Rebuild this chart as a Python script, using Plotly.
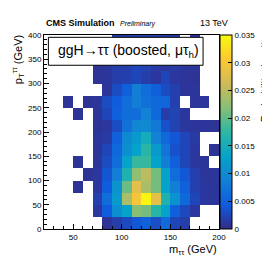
import plotly.graph_objects as go

N = None
# bin centres (GeV)
m_tautau = [25, 35, 45, 55, 65, 75, 85, 95, 105, 115, 125, 135, 145, 155, 165, 175, 185, 195]
pt_tautau = [12.5, 37.5, 62.5, 87.5, 112.5, 137.5, 162.5, 187.5, 212.5, 237.5,
             262.5, 287.5, 312.5, 337.5, 362.5, 387.5]

row_000_025 = [N, N, N, N, N, N, .0008, .0018, .0028, .004, .005, .0032, .0062, .0025, .0018, N, N, N]
row_025_050 = [N, N, N, N, N, .0012, .0045, .0105, .013, .022, .021, .017, .013, .005, .0028, .0012, N, N]
row_050_075 = [N, N, N, N, N, .002, .0065, .012, .024, .030, .0345, .028, .016, .011, .006, .0025, .0012, .001]
row_075_100 = [N, N, N, .0008, N, .0012, .0045, .011, .0205, .028, .024, .021, .013, .0085, .005, .002, .0012, .001]
row_100_125 = [N, N, N, N, .0008, .0012, .0038, .0085, .016, .0225, .025, .021, .013, .0065, .004, .002, .001, .001]
row_125_150 = [N, N, N, .0008, N, .001, .003, .0065, .013, .018, .018, .013, .0085, .005, .0025, .0012, .001, N]
row_150_175 = [N, N, N, N, N, .001, .0025, .006, .0105, .013, .017, .012, .0075, .0035, .0025, .0012, N, .0008]
row_175_200 = [N, N, N, N, N, .001, .0015, .005, .010, .012, .015, .009, .006, .004, .0025, .0015, N, N]
row_200_225 = [N, N, N, N, N, .0008, .0012, .003, .007, .0095, .010, .008, .0035, .0022, .0012, .001, .001, .0008]
row_225_250 = [N, N, N, .0008, N, .001, .0025, .005, .0065, .0065, .009, .006, .0018, .0022, .0012, N, N, N]
row_250_275 = [N, N, .0008, N, .0008, .001, .003, .0045, .0065, .0085, .007, .006, .0055, .002, N, .001, .001, N]
row_275_300 = [N, N, N, N, N, N, .001, .003, .005, .0085, .0065, .005, .003, .002, .001, .001, N, N]
row_300_325 = [N, N, N, N, N, .0008, .001, .0018, .002, .0025, .0018, .0012, .0025, .0012, .001, .0008, N, N]
row_325_350 = [N, N, N, N, N, .0008, .001, .0018, .0018, .0025, .0022, .0015, .0012, .0015, .0012, .001, N, N]
row_350_375 = [N, N, N, N, N, N, .001, .0015, .0015, .002, .002, .0015, .0012, .0012, .001, .001, N, N]
row_375_400 = [N, N, N, N, N, N, N, .0015, .0018, .002, .002, .002, .0018, .0015, N, .0012, N, N]

z = [row_000_025, row_025_050, row_050_075, row_075_100, row_100_125, row_125_150,
     row_150_175, row_175_200, row_200_225, row_225_250, row_250_275, row_275_300,
     row_300_325, row_325_350, row_350_375, row_375_400]

cbar_ticks = [0, 0.005, 0.01, 0.015, 0.02, 0.025, 0.03, 0.035]
cbar_labels = ["0", "0.005", "0.01", "0.015", "0.02", "0.025", "0.03", "0.035"]

# ROOT kBird palette
stops = [0.0, 0.125, 0.25, 0.375, 0.5, 0.625, 0.75, 0.875, 1.0]
red = [0.2082, 0.0592, 0.0780, 0.0232, 0.1802, 0.5301, 0.8186, 0.9956, 0.9764]
green = [0.1664, 0.3599, 0.5041, 0.6419, 0.7178, 0.7492, 0.7328, 0.7862, 0.9832]
blue = [0.5293, 0.8684, 0.8385, 0.7914, 0.6425, 0.4662, 0.3499, 0.1968, 0.0539]
colorscale = [[s, "rgb(%d,%d,%d)" % (r * 255, g * 255, b * 255)]
              for s, r, g, b in zip(stops, red, green, blue)]

FONT = "Liberation Sans, Arial, sans-serif"

fig = go.Figure()
fig.add_trace(go.Heatmap(
    x=m_tautau, y=pt_tautau, z=z,
    zmin=0, zmax=0.035, colorscale=colorscale, hoverongaps=False,
    colorbar=dict(
        x=1.004, xanchor="left", xpad=0, ypad=0,
        y=0, yanchor="bottom", len=1, lenmode="fraction",
        thickness=12, outlinewidth=1, outlinecolor="black",
        ticks="inside", ticklen=4, tickcolor="black",
        tickvals=cbar_ticks, ticktext=cbar_labels,
        tickfont=dict(family=FONT, size=8, color="black"),
    ),
))

axis_common = dict(
    showgrid=False, zeroline=False, showline=True, linecolor="black", linewidth=1,
    mirror=True, ticks="inside", ticklen=5, tickcolor="black",
    tickfont=dict(family=FONT, size=8, color="black"),
)
fig.update_xaxes(range=[20, 200], dtick=50, tick0=0,
                 minor=dict(dtick=10, ticks="inside", ticklen=3, tickcolor="black"),
                 **axis_common)
fig.update_yaxes(range=[0, 400], dtick=50, tick0=0,
                 minor=dict(dtick=10, ticks="inside", ticklen=3, tickcolor="black"),
                 **axis_common)

fig.update_layout(
    width=270, height=260,
    margin=dict(l=36, r=59, t=27, b=39),
    paper_bgcolor="white", plot_bgcolor="white",
    font=dict(family=FONT, color="black"),
    showlegend=False,
)

# legend-like label box
fig.add_shape(type="rect", xref="paper", yref="paper",
              x0=0.025, x1=0.909, y0=0.844, y1=0.988,
              fillcolor="white", line=dict(color="black", width=1), layer="above")
fig.add_annotation(xref="paper", yref="paper", x=0.48, y=0.916,
                   text="ggH\u2192\u03c4\u03c4 (boosted, \u03bc\u03c4<sub>h</sub>)",
                   showarrow=False, xanchor="center", yanchor="middle",
                   font=dict(family=FONT, size=14, color="black"))

fig.add_annotation(xref="paper", yref="paper", x=0.0, y=1.06,
                   text="<b>CMS Simulation</b>", showarrow=False,
                   xanchor="left", yanchor="middle",
                   font=dict(family=FONT, size=9, color="black"))
fig.add_annotation(xref="paper", yref="paper", x=0.425, y=1.058,
                   text="<i>Preliminary</i>", showarrow=False,
                   xanchor="left", yanchor="middle",
                   font=dict(family=FONT, size=7, color="black"))
fig.add_annotation(xref="paper", yref="paper", x=1.061, y=1.06,
                   text="13 TeV", showarrow=False,
                   xanchor="right", yanchor="middle",
                   font=dict(family=FONT, size=9, color="black"))

fig.add_annotation(xref="paper", yref="paper", x=1.0, y=-0.107,
                   text="m<sub>\u03c4\u03c4</sub> (GeV)", showarrow=False,
                   xanchor="right", yanchor="middle",
                   font=dict(family=FONT, size=11, color="black"))
fig.add_annotation(xref="paper", yref="paper", x=-0.151, y=1.01,
                   text="p<sub>T</sub><sup>\u03c4\u03c4</sup> (GeV)", showarrow=False,
                   textangle=-90, xanchor="center", yanchor="top",
                   font=dict(family=FONT, size=11, color="black"))
fig.add_annotation(xref="paper", yref="paper", x=1.262, y=1.005,
                   text="Probability density", showarrow=False,
                   textangle=-90, xanchor="center", yanchor="top",
                   font=dict(family=FONT, size=10.5, color="black"))

fig.write_html("out.html")
